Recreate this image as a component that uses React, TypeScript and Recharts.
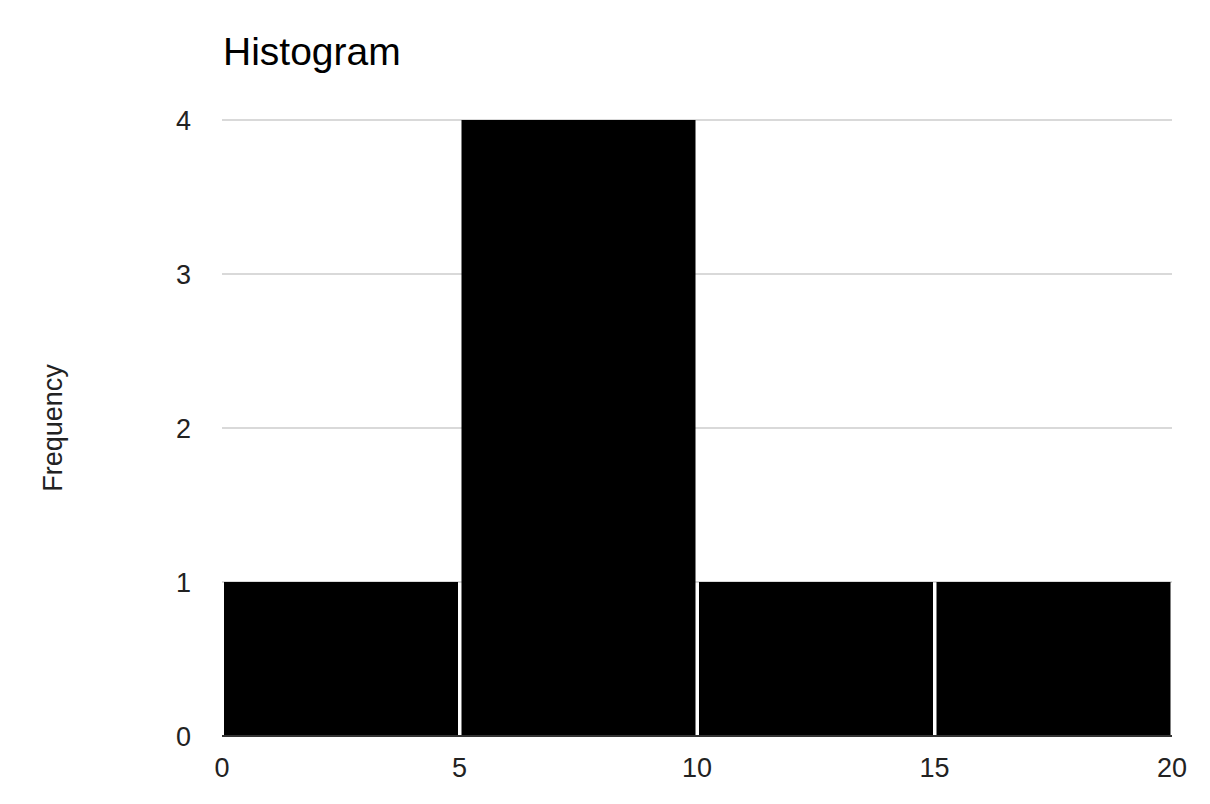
import React from 'react';
import { BarChart, Bar, XAxis, YAxis, CartesianGrid } from 'recharts';

const binEdges = [0, 5, 10, 15, 20];
const frequencies = [1, 4, 1, 1];
const xTicks = [0, 5, 10, 15, 20];
const yTicks = [0, 1, 2, 3, 4];
const chartTitle = 'Histogram';
const yAxisTitle = 'Frequency';

const data = frequencies.map((frequency, i) => ({
  mid: (binEdges[i] + binEdges[i + 1]) / 2,
  frequency,
}));

const FONT = '"Liberation Sans", Arial, sans-serif';

const YLabel = () => (
  <text
    x={53}
    y={428}
    transform="rotate(-90 53 428)"
    textAnchor="middle"
    dominantBaseline="central"
    fontFamily={FONT}
    fontSize={27}
    fill="#222"
  >
    {yAxisTitle}
  </text>
);

export default function App() {
  return (
    <div style={{ position: 'absolute', left: 0, top: 0, width: 1210, height: 804, background: '#fff' }}>
      <BarChart
        width={1210}
        height={804}
        data={data}
        margin={{ top: 120, right: 38, bottom: 0, left: 0 }}
        barCategoryGap={2}
      >
        <CartesianGrid horizontal={true} vertical={false} stroke="#cccccc" strokeWidth={1.5} />
        <XAxis
          dataKey="mid"
          type="number"
          domain={[0, 20]}
          ticks={xTicks}
          interval={0}
          height={68}
          axisLine={{ stroke: '#333333', strokeWidth: 2 }}
          tickLine={false}
          tickSize={0}
          tickMargin={22}
          tick={{ fontFamily: FONT, fontSize: 27, fill: '#222' }}
        />
        <YAxis
          width={222}
          domain={[0, 4]}
          ticks={yTicks}
          axisLine={false}
          tickLine={false}
          tickSize={0}
          tickMargin={31}
          tick={{ fontFamily: FONT, fontSize: 27, fill: '#222' }}
          label={<YLabel />}
        />
        <Bar dataKey="frequency" fill="#000000" isAnimationActive={false} />
      </BarChart>
      <svg
        width={1210}
        height={804}
        style={{ position: 'absolute', left: 0, top: 0, pointerEvents: 'none' }}
      >
        <text x={223} y={65} fontFamily={FONT} fontSize={39} fill="#000">
          {chartTitle}
        </text>
      </svg>
    </div>
  );
}
